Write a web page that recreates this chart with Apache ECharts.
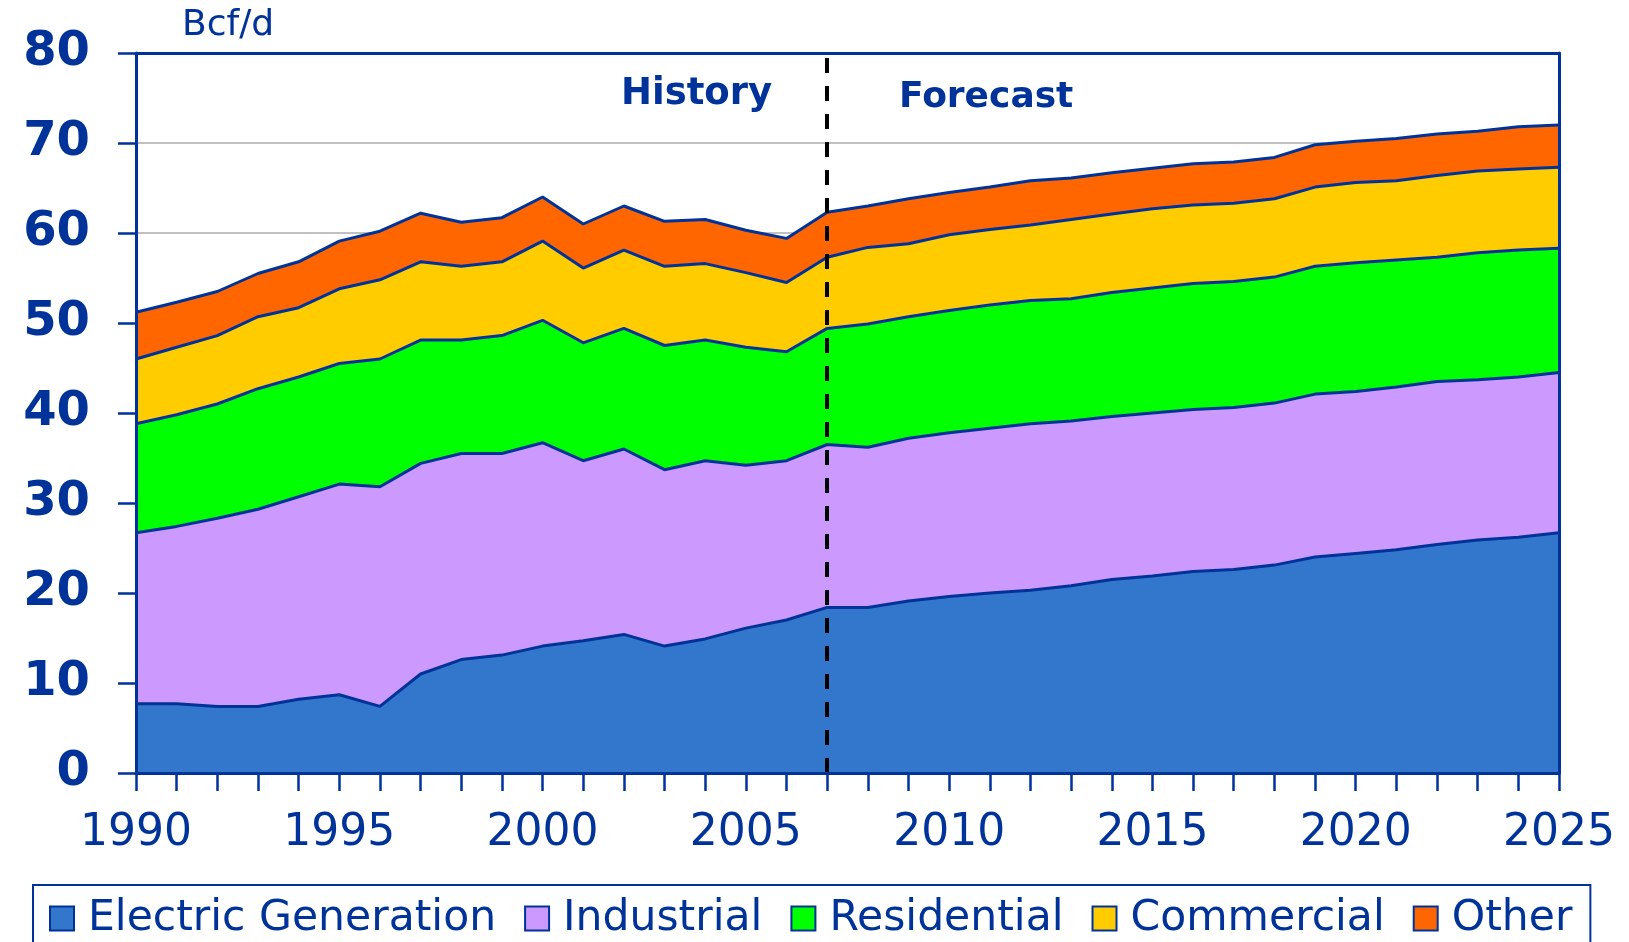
<!DOCTYPE html>
<html>
<head>
<meta charset="utf-8" />
<title>Natural gas consumption by sector</title>
<style>html,body{margin:0;padding:0;background:#fff}#chart{width:1629px;height:942px}</style>
<script src="https://cdn.jsdelivr.net/npm/echarts@6/dist/echarts.min.js"></script>
</head>
<body>
<div id="chart"></div>
<script>
(function () {
  // -------- data (Bcf/d) ----------
  const years = ["1990","1991","1992","1993","1994","1995","1996","1997","1998","1999",
    "2000","2001","2002","2003","2004","2005","2006","2007","2008","2009",
    "2010","2011","2012","2013","2014","2015","2016","2017","2018","2019",
    "2020","2021","2022","2023","2024","2025"];

  const electric = [7.7,7.7,7.4,7.4,8.2,8.7,7.4,11.0,12.6,13.1,
    14.1,14.7,15.4,14.1,14.9,16.1,17.0,18.4,18.4,19.1,
    19.6,20.0,20.3,20.8,21.5,21.9,22.4,22.6,23.1,24.0,
    24.4,24.8,25.4,25.9,26.2,26.7];
  const industrial = [19.0,19.7,20.9,21.9,22.5,23.4,24.4,23.4,22.9,22.4,
    22.6,20.0,20.6,19.6,19.8,18.1,17.7,18.1,17.8,18.1,
    18.2,18.3,18.5,18.3,18.1,18.1,18.0,18.0,18.0,18.1,
    18.0,18.1,18.1,17.8,17.8,17.8];
  const residential = [12.1,12.4,12.7,13.4,13.3,13.4,14.2,13.7,12.6,13.1,
    13.6,13.1,13.4,13.8,13.4,13.1,12.1,12.9,13.7,13.5,
    13.6,13.7,13.7,13.6,13.8,13.9,14.0,14.0,14.0,14.2,
    14.3,14.1,13.8,14.1,14.1,13.8];
  const commercial = [7.2,7.5,7.6,8.0,7.7,8.3,8.8,8.7,8.2,8.2,
    8.8,8.3,8.7,8.8,8.5,8.3,7.7,7.9,8.5,8.1,
    8.4,8.4,8.4,8.8,8.7,8.8,8.7,8.7,8.7,8.8,
    8.9,8.8,9.1,9.1,9.0,9.0];
  const other = [5.2,5.0,4.9,4.8,5.1,5.3,5.4,5.4,4.9,4.9,
    4.9,4.9,4.9,5.0,4.9,4.7,4.9,5.0,4.6,5.0,
    4.7,4.7,4.9,4.6,4.6,4.5,4.6,4.6,4.6,4.7,
    4.6,4.7,4.6,4.4,4.7,4.7];

  const seriesNames = ["Electric Generation", "Industrial", "Residential", "Commercial", "Other"];
  const seriesData = [electric, industrial, residential, commercial, other];
  const fills = ["#3377CC", "#CC99FF", "#00FF00", "#FFCC00", "#FF6600"];
  const forecastStart = "2007";

  const NAVY = "#003399";
  const FONT = "DejaVu Sans";

  const chart = echarts.init(document.getElementById("chart"), null, { renderer: "canvas" });

  const series = seriesNames.map((name, i) => ({
    name,
    type: "line",
    stack: "total",
    data: seriesData[i],
    xAxisIndex: 0,
    yAxisIndex: 0,
    showSymbol: false,
    symbol: "none",
    silent: true,
    lineStyle: { color: NAVY, width: 3 },
    itemStyle: { color: fills[i] },
    areaStyle: { color: fills[i], opacity: 1 },
  }));

  // history / forecast split
  series[series.length - 1].markLine = {
    silent: true,
    symbol: ["none", "none"],
    label: { show: false },
    lineStyle: { color: "#000", width: 4, type: [15, 13] },
    data: [{ xAxis: forecastStart }],
  };

  const yBase = { type: "value", min: 0, max: 80, interval: 10 };
  const navyLine = { show: true, onZero: false, lineStyle: { color: NAVY, width: 3 } };

  chart.setOption({
    animation: false,
    backgroundColor: "#fff",
    grid: { left: 136, right: 70, top: 53, bottom: 169, containLabel: false },
    xAxis: [
      {
        type: "category", data: years, boundaryGap: false, position: "bottom", z: 10,
        axisLine: navyLine,
        axisTick: { show: true, interval: 0, length: 18, lineStyle: { color: NAVY, width: 2.5 } },
        axisLabel: { interval: 4, margin: 39, color: NAVY, fontFamily: FONT, fontSize: 44 },
        splitLine: { show: false },
      },
      {
        type: "category", data: years, boundaryGap: false, position: "top", z: 10,
        axisLine: navyLine,
        axisTick: { show: false }, axisLabel: { show: false }, splitLine: { show: false },
      },
    ],
    yAxis: [
      Object.assign({}, yBase, {
        position: "left", z: 0,
        axisLine: { show: false }, axisTick: { show: false }, axisLabel: { show: false },
        splitLine: { show: true, lineStyle: { color: "#C0C0C0", width: 2 } },
      }),
      Object.assign({}, yBase, {
        position: "left", z: 10,
        axisLine: navyLine,
        axisTick: { show: true, length: 18, lineStyle: { color: NAVY, width: 2.5 } },
        axisLabel: { margin: 46, color: NAVY, fontFamily: FONT, fontSize: 48, fontWeight: "bold" },
        splitLine: { show: false },
      }),
      Object.assign({}, yBase, {
        position: "right", z: 10,
        axisLine: navyLine,
        axisTick: { show: false }, axisLabel: { show: false }, splitLine: { show: false },
      }),
    ],
    legend: {
      left: 33,
      top: 885,
      orient: "horizontal",
      padding: [12, 18, 40, 16],
      borderColor: NAVY,
      borderWidth: 2,
      itemWidth: 24,
      itemHeight: 24,
      itemGap: 28,
      selectedMode: false,
      textStyle: { color: NAVY, fontFamily: FONT, fontSize: 42.5, padding: [0, 0, 0, 9] },
      data: seriesNames.map((name, i) => ({
        name,
        icon: "rect",
        itemStyle: { color: fills[i], borderColor: NAVY, borderWidth: 2 },
      })),
    },
    graphic: [
      { type: "text", left: 182, top: 8, silent: true,
        style: { text: "Bcf/d", fill: NAVY, font: "36px '" + FONT + "'" } },
      { type: "text", left: 621, top: 76, silent: true,
        style: { text: "History", fill: NAVY, font: "bold 37px '" + FONT + "'" } },
      { type: "text", left: 899, top: 80, silent: true,
        style: { text: "Forecast", fill: NAVY, font: "bold 36px '" + FONT + "'" } },
    ],
    series,
  });
})();
</script>
</body>
</html>
